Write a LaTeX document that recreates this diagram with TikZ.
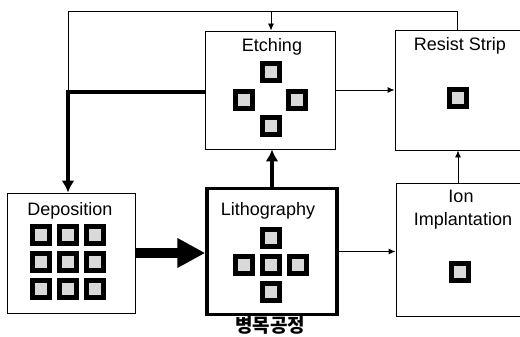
\documentclass[tikz,border=0pt]{standalone}
\usepackage{fontspec}
\setmainfont{Liberation Sans}
\newfontfamily\kofont{Noto Sans CJK KR}
\usetikzlibrary{positioning,arrows.meta}
\tikzset{procbox/.style={draw, line width=0.9pt, inner sep=0pt}}
\tikzset{chip/.style={draw, line width=5pt, fill=gray!30, minimum size=17pt, inner sep=0pt}}
\tikzset{title/.style={font=\fontsize{18}{23}\selectfont, inner sep=0pt, anchor=base}}
\tikzset{arrow/.style={-{Latex[length=7pt,width=6pt]}, line width=0.9pt}}
\tikzset{thick-arrow/.style={-{Latex[length=12pt,width=13pt]}, line width=4pt}}
\tikzset{big-arrow/.style={-{Triangle[length=28pt,width=28pt]}, line width=10pt}}

\begin{document}
\begin{tikzpicture}[x=1pt, y=-1pt]
      \useasboundingbox (0,0) rectangle (520,337);
      \clip (0,0) rectangle (520,337);

      % process boxes
      \node[procbox, minimum width=128, minimum height=120] (dep) at (71,253) {};
      \node[procbox, line width=3.5pt, minimum width=130, minimum height=126] (litho) at (272,251.5) {};
      \node[procbox, minimum width=130, minimum height=118] (etch) at (270,90) {};
      \node[procbox, minimum width=140, minimum height=120] (rs) at (465,90) {};
      \node[procbox, minimum width=140, minimum height=133] (ion) at (466,249.5) {};

      \node[title] (deptitle) at (70,215) {Deposition};
      \node[title] (lithotitle) at (268,215) {Lithography};
      \node[title] (etchtitle) at (272,52) {Etching};
      \node[title] (rstitle) at (460,51) {Resist Strip};
      \node[title] (iontitle) at (461,202) {Ion};
      \node[title] (implanttitle) at (463,225) {Implantation};
      \node[font=\kofont\bfseries\fontsize{19}{22}\selectfont, inner sep=0pt, anchor=base] (neck) at (270,332) {병목공정};

      % wafer chips
      \foreach \col in {1,2,3}
        \foreach \row in {1,2,3}
          \node[chip] (d\col\row) at (14+27*\col, 208+27*\row) {};

      \node[chip] (e1) at (271,72) {};
      \node[chip] (e2) at (244,100) {};
      \node[chip] (e3) at (297,100) {};
      \node[chip] (e4) at (271,126) {};

      \node[chip] (l1) at (271,238) {};
      \node[chip] (l2) at (244,265) {};
      \node[chip] (l3) at (271,265) {};
      \node[chip] (l4) at (298,265) {};
      \node[chip] (l5) at (271,292) {};

      \node[chip] (r1) at (458,98) {};
      \node[chip] (i1) at (460,272) {};

      % flow
      \coordinate (tr) at (457,11);
      \coordinate (tl) at (68,11);
      \coordinate (jn) at (68,92);
      \coordinate (ein) at (271,11);

      \draw[line width=0.9pt] (rs.north -| tr) -- (tr) -- (tl) -- (jn);
      \draw[arrow] (ein) -- (etch.north -| ein);
      \draw[thick-arrow] (etch.west |- jn) -- (jn) -- (dep.north -| jn);
      \draw[arrow] (etch.east) -- (etch.east -| rs.west);
      \draw[arrow] (ion.north -| r1) -- (rs.south -| r1);
      \draw[thick-arrow] (litho.north) -- (litho.north |- etch.south);
      \draw[big-arrow] (dep.east) -- (dep.east -| litho.west);
      \draw[arrow] (litho.east) -- (litho.east -| ion.west);
    \end{tikzpicture}
\end{document}
